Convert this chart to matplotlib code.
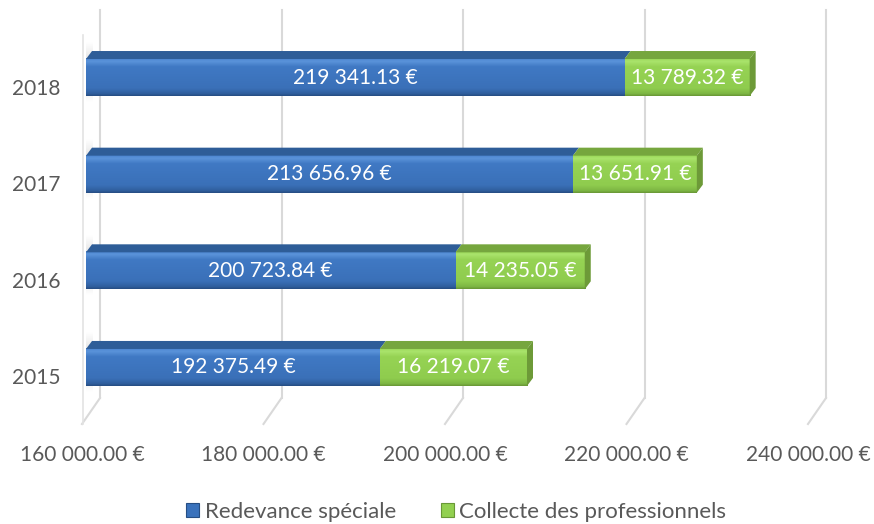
import matplotlib.pyplot as plt
import matplotlib.transforms as mtransforms
from matplotlib.colors import LinearSegmentedColormap
from matplotlib.patches import Polygon, Patch
import numpy as np

years = ["2015", "2016", "2017", "2018"]
redevance = [192375.49, 200723.84, 213656.96, 219341.13]
collecte = [16219.07, 14235.05, 13651.91, 13789.32]
x_ticks = [160000, 180000, 200000, 220000, 240000]
series_names = ["Redevance spéciale", "Collecte des professionnels"]

x_min, x_max = 160000, 240000


def euro(v):
    return f"{v:,.2f}".replace(",", " ") + " €"


plt.rcParams["font.family"] = ["Lato", "DejaVu Sans"]

fig = plt.figure(figsize=(8.74, 5.24), dpi=100)
W, H = 874, 524
# axes = front plane of the bars (pixel layout)
ax_left, ax_right = 86, 812
ax_top, ax_bot = 29.2, 415.8
ax = fig.add_axes([ax_left / W, 1 - ax_bot / H, (ax_right - ax_left) / W, (ax_bot - ax_top) / H])
ax.set_xlim(x_min, x_max)
ax.set_ylim(-0.5, 3.5)
for s in ax.spines.values():
    s.set_visible(False)

# pixel -> data helpers
px_x = (x_max - x_min) / (ax_right - ax_left)
px_y = 4.0 / (ax_bot - ax_top)


def py2data(py):
    return 3.5 - (py - ax_top) * px_y


grid_col = "#d9d9d9"
# back wall gridlines and floor lines
for t in x_ticks:
    xb = t + 14 * px_x
    xf = t - 4 * px_x
    ax.plot([xb, xb], [py2data(10), py2data(398)], color=grid_col, lw=1.5,
            clip_on=False, zorder=0.5)
    ax.plot([xb, xf], [py2data(398), py2data(424)], color=grid_col, lw=1.5,
            clip_on=False, zorder=0.5)
# left wall edge
ax.plot([x_min - 3 * px_x] * 2, [py2data(35), py2data(424)], color="#e3e3e3",
        lw=1.2, clip_on=False, zorder=0.5)

blue_cmap = LinearSegmentedColormap.from_list("b", [
    (0, "#4b84cf"), (0.08, "#5a93da"), (0.22, "#4079c4"),
    (0.8, "#3a70b8"), (0.94, "#305f9e"), (1, "#264e84")])
green_cmap = LinearSegmentedColormap.from_list("g", [
    (0, "#98d656"), (0.08, "#aae46c"), (0.22, "#96d354"),
    (0.8, "#8fcc4e"), (0.94, "#7eb744"), (1, "#699836")])
shadow_cmap = LinearSegmentedColormap.from_list("s", ["#ffffff", "#c8c8c8", "#ffffff"])

bh = 0.383
ddx, ddy = 6 * px_x, 8 * px_y
grad = np.linspace(0, 1, 64).reshape(-1, 1)
sgrad = np.linspace(0, 1, 64).reshape(-1, 1)

for i in range(len(years)):
    segs = [(x_min, redevance[i], blue_cmap, "#2e5d98"),
            (redevance[i], redevance[i] + collecte[i], green_cmap, "#76a63e")]
    # soft shadow on the left wall
    ax.imshow(sgrad, cmap=shadow_cmap, aspect="auto", alpha=0.8,
              extent=(x_min - 2 * px_x, x_min + 7 * px_x, i - bh / 2 - 6 * px_y, i + bh / 2 + 16 * px_y),
              origin="upper", interpolation="bilinear", zorder=0.8)
    for j, (x0, x1, cmap, topc) in enumerate(segs):
        yb, yt = i - bh / 2, i + bh / 2
        ax.imshow(grad, cmap=cmap, aspect="auto", extent=(x0, x1, yb, yt),
                  origin="upper", interpolation="bilinear", zorder=2)
        ax.add_patch(Polygon([(x0, yt), (x1, yt), (x1 + ddx, yt + ddy), (x0 + ddx, yt + ddy)],
                             closed=True, color=topc, lw=0, zorder=2))
        if j == 1:
            ax.add_patch(Polygon([(x1, yb), (x1, yt), (x1 + ddx, yt + ddy), (x1 + ddx, yb + ddy)],
                                 closed=True, color="#6d9a38", lw=0, zorder=2))
        val = redevance[i] if j == 0 else collecte[i]
        ax.text((x0 + x1) / 2, i, euro(val), ha="center", va="center",
                color="white", fontsize=15, zorder=3)

ax.set_xlim(x_min, x_max)
ax.set_ylim(-0.5, 3.5)

text_col = "#595959"
ax.set_xticks(x_ticks)
ax.set_xticklabels([euro(t) for t in x_ticks])
ax.set_yticks(range(len(years)))
ax.set_yticklabels(years)
ax.tick_params(axis="x", length=0, pad=21, labelsize=15, labelcolor=text_col)
ax.tick_params(axis="y", length=0, pad=18.5, labelsize=15, labelcolor=text_col)
for lab in ax.get_xticklabels():
    lab.set_transform(lab.get_transform() + mtransforms.ScaledTranslation(-4 / 100, 0, fig.dpi_scale_trans))
for lab in ax.get_yticklabels():
    lab.set_transform(lab.get_transform() + mtransforms.ScaledTranslation(0, -9 / 100, fig.dpi_scale_trans))

handles = [Patch(facecolor="#3a72bc", edgecolor="#264e84", lw=0.8),
           Patch(facecolor="#92d050", edgecolor="#699836", lw=0.8)]
fig.legend(handles, series_names, loc="center", bbox_to_anchor=(0.522, 1 - 512 / H),
           ncol=2, frameon=False, fontsize=16, labelcolor=text_col,
           handlelength=0.6, handleheight=0.6, handletextpad=0.25, columnspacing=2.0,
           borderpad=0)

fig.savefig("out.png", dpi=100)
